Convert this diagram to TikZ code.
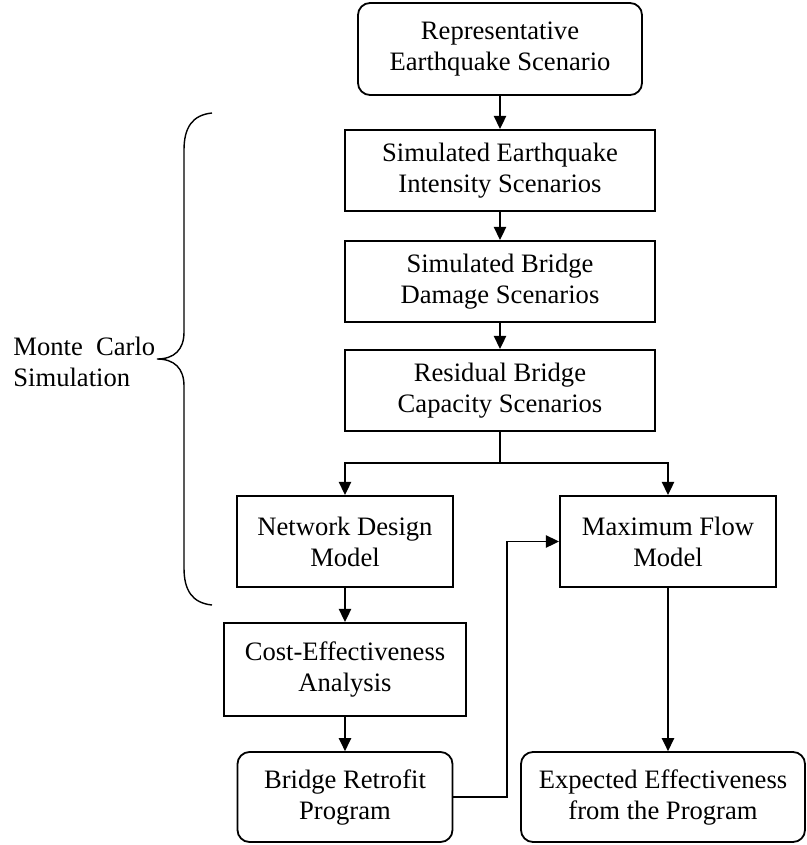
\documentclass[tikz,border=0pt]{standalone}
\usepackage{fontspec}
\setmainfont{Liberation Serif}
\usetikzlibrary{arrows.meta}
\begin{document}
\begin{tikzpicture}[x=0.5pt,y=-0.5pt,
  font=\fontsize{13.3}{15.5}\selectfont,
  stage/.style 2 args={draw, line width=1.1pt, align=center, inner sep=0pt,
    minimum width=#1, minimum height=#2},
  rstage/.style 2 args={stage={#1}{#2}, line width=0.9pt, rounded corners=6pt},
  link/.style={line width=0.7pt},
  conn/.style={link, -{Triangle[length=6.5pt,width=6.2pt]}}]

% canvas
\useasboundingbox (0,0) rectangle (807,845);

% process stages
\node[rstage={142pt}{46pt}] (top) at (500,49) {Representative\\Earthquake Scenario};
\node[stage={155pt}{40.5pt}] (intens) at (500,170.5) {Simulated Earthquake\\Intensity Scenarios};
\node[stage={155pt}{40.5pt}] (damage) at (500,281.5) {Simulated Bridge\\Damage Scenarios};
\node[stage={155pt}{40.5pt}] (resid) at (500,390.5) {Residual Bridge\\Capacity Scenarios};
\node[stage={108pt}{45.5pt}] (net) at (345,541.5) {Network Design\\Model};
\node[stage={108pt}{45.5pt}] (maxf) at (668,541.5) {Maximum Flow\\Model};
\node[stage={121pt}{46.5pt}] (cost) at (345,669.5) {Cost-Effectiveness\\Analysis};
\node[rstage={107.5pt}{45pt}] (retro) at (345,797) {Bridge Retrofit\\Program};
\node[rstage={142pt}{45pt}] (expect) at (663,797) {Expected Effectiveness\\from the Program};

% connectors
\draw[conn] (top) -- (intens);
\draw[conn] (intens) -- (damage);
\draw[conn] (damage) -- (resid);
\coordinate (split) at (500,463);
\draw[link] (resid.south) -- (split);
\draw[conn] (split) -| (net.north);
\draw[conn] (split) -| (maxf.north);
\draw[conn] (net.south) -- (net.south |- cost.north);
\draw[conn] (cost.south) -- (cost.south |- retro.north);
\coordinate (jog) at (507,797);
\draw[conn] (retro.east) -- (jog) |- (maxf.west);
\draw[conn] (maxf.south) -- (maxf.south |- expect.north);

% brace around the simulation loop
\draw[line width=0.7pt]
  (212,113) .. controls (192,115) and (184,128) .. (184,150)
  -- (184,332) .. controls (184,350) and (174,359) .. (157,359)
  .. controls (174,359) and (184,368) .. (184,386)
  -- (184,568) .. controls (184,590) and (192,603) .. (212,605);
\node[anchor=west, align=left, inner sep=0pt] (mc) at (13,362)
  {Monte\hspace{0.5em}Carlo\\Simulation};
\end{tikzpicture}
\end{document}
